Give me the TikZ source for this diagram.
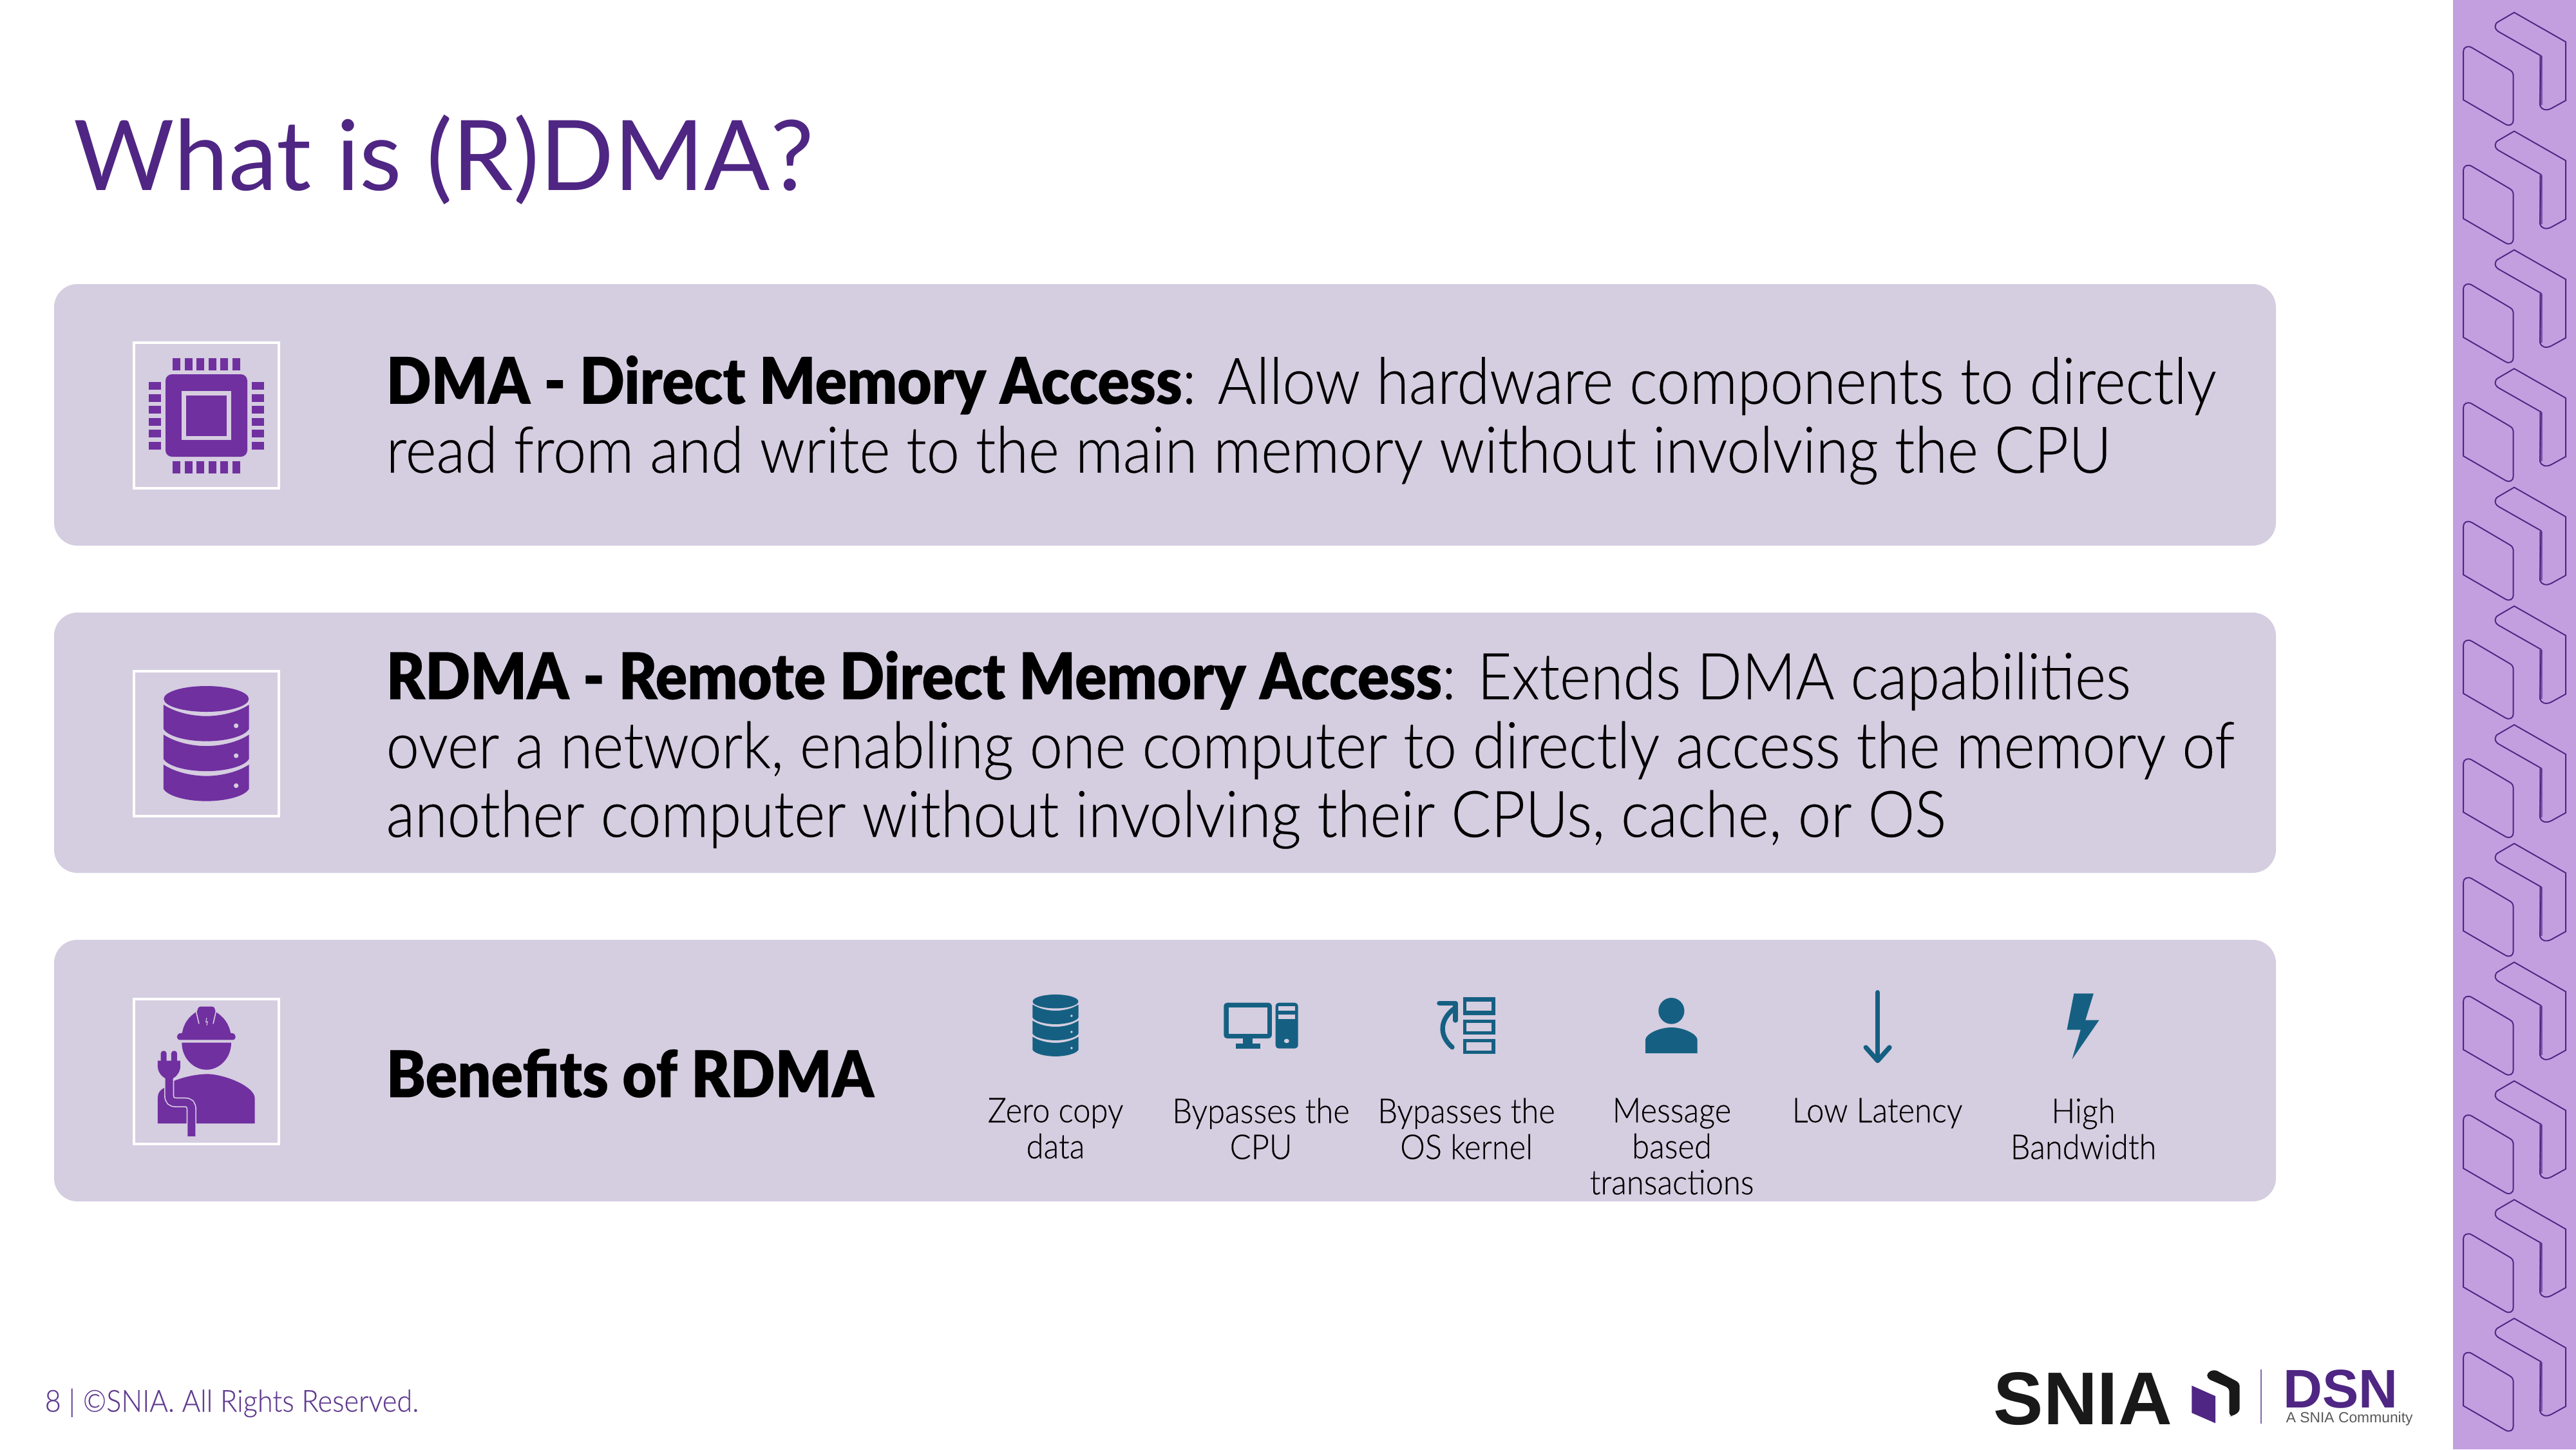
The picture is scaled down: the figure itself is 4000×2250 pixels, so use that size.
\documentclass[tikz,border=0pt]{standalone}
\usepackage{fontspec}
\setmainfont{Lato Light}[BoldFont=Lato Black, FakeStretch=.92, FakeBold=.25]
\newfontfamily\titlefont{Lato}
\newfontfamily\logofont{Liberation Sans Bold}
\newfontfamily\tagfont{Liberation Sans}
\definecolor{panelbg}{HTML}{D5CDE0}
\definecolor{iconpurple}{HTML}{7030A0}
\definecolor{iconblue}{HTML}{156082}
\definecolor{titlepurple}{HTML}{4F2683}
\definecolor{sidepurple}{HTML}{C39FE0}
\tikzset{
  panelbox/.style={fill=panelbg, rounded corners=.36cm},
  iconframe/.style={draw=white, line width=1.2pt},
  bodytext/.style={anchor=west, inner sep=0pt, align=left, font=\fontsize{28.4}{30.4}\selectfont},
  benefitlabel/.style={anchor=north, inner sep=0pt, align=center, font=\fontsize{15.1}{15.9}\selectfont},
  blueline/.style={draw=iconblue, line width=2.1pt, line cap=round, line join=round},
}
% one stack of three discs, coordinates as measured on the icon
\newcommand{\dbstack}[4]{
\begin{scope}[shift={(#1,#2)}, scale=#3]
\fill[#4] (511,255) ellipse (198 and 60);
\foreach \d in {0,139.5,279}{
\fill[#4] (312,282+\d) .. controls (370,320+\d) and (450,335+\d) .. (511,335+\d)
                    .. controls (572,335+\d) and (652,320+\d) .. (710,282+\d)
                    -- (710,395+\d) .. controls (690,430+\d) and (600,452+\d) .. (511,452+\d)
                    .. controls (422,452+\d) and (332,430+\d) .. (312,395+\d) -- cycle;
\fill[panelbg] (650,380+\d) circle (11);
}
\end{scope}
}
\begin{document}
\begin{tikzpicture}[x=.01cm, y=-.01cm]
\useasboundingbox (0,0) rectangle (4000,2250);

% side band
\fill[sidepurple] (3809,0) rectangle (4000,2250);
\foreach \k in {0,...,11}{
\begin{scope}[shift={(3780,184.3*\k)}, scale=.3333, draw=titlepurple, line width=.55pt]
\draw (372,58) -- (612,195) -- (612,468) -- (545,505) .. controls (520,518) and (497,510) .. (492,490)
      -- (497,260) -- (300,148) .. controls (278,135) and (278,110) .. (300,100) -- cycle;
\draw[line width=1.3pt, opacity=.6] (497,262) -- (497,490);
\draw (135,240) .. controls (135,220) and (155,210) .. (175,222) -- (350,325) .. controls (362,332) and (368,340) .. (368,350)
      -- (368,560) .. controls (368,580) and (350,590) .. (330,578) -- (135,465) -- cycle;
\end{scope}
}

% title
\node[anchor=base west, inner sep=0pt, text=titlepurple, font=\titlefont\fontsize{43}{43}\selectfont] (titletext) at (114,295) {What is (R)DMA?};

% panels
\fill[panelbox] (84,441) rectangle (3534,847);
\fill[panelbox] (84,951) rectangle (3534,1355);
\fill[panelbox] (84,1459) rectangle (3534,1865);
\draw[iconframe] (208,532) rectangle (433,758);
\draw[iconframe] (208,1042) rectangle (433,1267);
\draw[iconframe] (208,1551) rectangle (433,1776);

% chip
\fill[iconpurple, rounded corners=.1cm] (257,581) rectangle (384,709);
\fill[panelbg] (282,607) rectangle (359,683);
\fill[iconpurple] (289,614) rectangle (352,677);
\foreach \i in {0,...,5}{
\fill[iconpurple] (268+18.6*\i,556) rectangle +(12,19);
\fill[iconpurple] (268+18.6*\i,716) rectangle +(12,19);
\fill[iconpurple] (231,593+18.6*\i) rectangle +(19,12);
\fill[iconpurple] (391,593+18.6*\i) rectangle +(19,12);
}

% discs
\dbstack{150}{1000}{.3333}{iconpurple}
\dbstack{1547.5}{1509}{.179}{iconblue}

% worker with plug
\begin{scope}[shift={(150,1510)}, scale=.3333]
\fill[iconpurple] (285,702) -- (285,580) .. controls (285,560) and (298,545) .. (312,538) -- (358,505)
      .. controls (420,480) and (480,472) .. (520,472) .. controls (600,475) and (737,530) .. (737,585)
      -- (737,702) -- cycle;
\draw[panelbg, line width=4.35pt] (338,480) -- (338,570) .. controls (338,595) and (350,604) .. (370,604)
      -- (410,604) .. controls (432,604) and (442,612) .. (442,640) -- (442,770);
\draw[iconpurple, line width=3.4pt] (338,480) -- (338,570) .. controls (338,595) and (350,604) .. (370,604)
      -- (410,604) .. controls (432,604) and (442,612) .. (442,640) -- (442,762);
\fill[iconpurple] (285,410) -- (390,410) -- (390,440) .. controls (388,465) and (370,485) .. (356,492)
      -- (320,492) .. controls (305,485) and (287,465) .. (285,440) -- cycle;
\fill[iconpurple, rounded corners=.04cm] (299,420) -- (299,364) -- (326,364) -- (326,420) -- cycle;
\fill[iconpurple, rounded corners=.04cm] (348,420) -- (348,364) -- (375,364) -- (375,420) -- cycle;
\fill[iconpurple] (397,326) -- (627,326) .. controls (627,400) and (570,452) .. (512,452) .. controls (454,452) and (397,400) .. (397,326) -- cycle;
\fill[iconpurple, rounded corners=.04cm] (375,313) -- (375,285) -- (398,280) -- (625,280) -- (647,285) -- (647,313) -- cycle;
\fill[iconpurple] (398,285) .. controls (405,235) and (430,205) .. (465,182) -- (555,182) .. controls (590,205) and (617,235) .. (625,285) -- cycle;
\fill[iconpurple, rounded corners=.03cm] (465,190) -- (475,158) -- (548,158) -- (556,190) -- cycle;
\draw[panelbg, line width=.45pt] (464,182) -- (477,238);
\draw[panelbg, line width=.45pt] (556,182) -- (543,238);
\draw[panelbg, line width=.3pt] (513,210) -- (509,230) -- (517,228) -- (513,245);
\end{scope}

% pc and kernel icons
\begin{scope}[shift={(1530,1510)}, xscale=.574, yscale=.3333]
\fill[iconblue, rounded corners=.05cm] (645,140) rectangle (775,306);
\fill[panelbg] (658,163) rectangle (763,285);
\fill[iconblue] (697,306) rectangle (723,330);
\fill[iconblue] (678,330) rectangle (743,353);
\fill[iconblue, rounded corners=.05cm] (785,140) rectangle (846,353);
\fill[panelbg] (793,156) rectangle (838,178);
\fill[panelbg] (793,194) rectangle (838,216);
\fill[panelbg] (815,318) ellipse (7 and 10);
\foreach \t/\b/\m/\n in {114/197/135/176, 220/287/233/273, 310/378/325/364}{
\fill[iconblue] (1292,\t) rectangle (1380,\b);
\fill[panelbg] (1302,\m) rectangle (1370,\n);
}
\draw[blueline] (1263,347) .. controls (1225,290) and (1230,215) .. (1270,165);
\draw[blueline] (1228,142) -- (1272,142) -- (1272,222);
\end{scope}

% person, arrow and bolt
\begin{scope}[shift={(2430,1510)}, xscale=.574, yscale=.3333]
\fill[iconblue] (288,178) ellipse (35 and 61);
\fill[iconblue] (218,375) -- (218,310) .. controls (220,285) and (255,255) .. (288,255)
      .. controls (321,255) and (356,285) .. (358,310) -- (358,375) -- cycle;
\draw[blueline] (846,92) -- (846,405);
\draw[blueline] (814,348) -- (846,410) -- (878,348);
\fill[iconblue] (1377,97) -- (1430,97) -- (1408,221) -- (1445,221) -- (1372,403) -- (1395,266) -- (1358,266) -- cycle;
\end{scope}

% texts
\node[bodytext] (dmatext) at (599,652) {\textbf{DMA - Direct Memory Access}: Allow hardware components to directly\\read from and write to the main memory without involving the CPU};
\node[bodytext] (rdmatext) at (599,1164) {\textbf{RDMA - Remote Direct Memory Access}: Extends DMA capabilities\\over a network, enabling one computer to directly access the memory of\\another computer without involving their CPUs, cache, or OS};
\node[bodytext] (benefitstext) at (599,1666) {\textbf{Benefits of RDMA}};
\foreach \x/\n/\lab in {1639/a/{Zero copy\\data}, 1958/b/{Bypasses the\\CPU}, 2277/c/{Bypasses the\\OS kernel},
                        2596/d/{Message\\based\\transactions}, 2915/e/{Low Latency}, 3235/f/{High\\Bandwidth}}
\node[benefitlabel] (label\n) at (\x,1704) {\lab};

% footer and logo
\node[anchor=west, inner sep=0pt, text=titlepurple!90, font=\fontsize{13.4}{14}\selectfont] (footertext) at (69,2178) {8 | ©SNIA. All Rights Reserved.};
\node[anchor=base west, inner sep=0pt, font=\logofont\fontsize{33}{33}\selectfont, text=black!90] (snialogo) at (3095,2211) {SNIA};
\begin{scope}[shift={(3060,2090)}, xscale=.459, yscale=.3333]
\fill[titlepurple] (748,183) -- (828,232) -- (828,358) -- (748,310) -- cycle;
\fill[black!90, rounded corners=.05cm] (800,150) -- (800,122) -- (825,108) -- (910,170) -- (910,305) -- (885,325) -- (875,325) -- (875,195) -- cycle;
\draw[titlepurple!70, line width=.6pt] (982,108) -- (982,360);
\end{scope}
\node[anchor=base west, inner sep=0pt, text=titlepurple, font=\logofont\fontsize{24}{24}\selectfont] (dsnlogo) at (3545,2185) {DSN};
\node[anchor=base west, inner sep=0pt, text=black!65, font=\tagfont\fontsize{6.5}{7}\selectfont] (dsntag) at (3549,2208) {A SNIA Community};
\end{tikzpicture}
\end{document}
